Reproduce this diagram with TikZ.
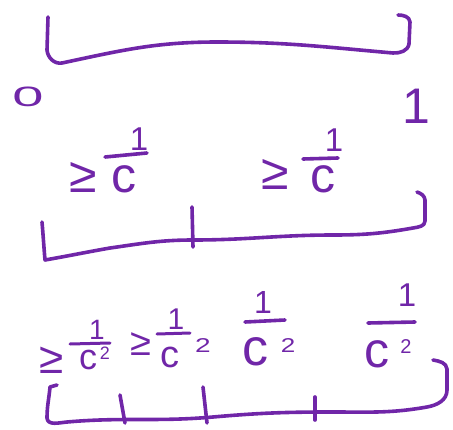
\documentclass[tikz,border=0pt]{standalone}
\usepackage{fontspec}
\setmainfont{Liberation Sans}
\definecolor{ink}{RGB}{112,38,168}
\tikzset{
  pen/.style={draw=ink, line width=3.6pt, line cap=round, line join=round},
  txt/.style={text=ink, inner sep=0pt, anchor=center},
}
\newcommand{\fs}[1]{\fontsize{#1}{#1}\selectfont}
\begin{document}
\begin{tikzpicture}[x=1pt,y=-1pt]
\useasboundingbox (0,0) rectangle (453,429);
% ---------- top interval ----------
\draw[pen] (48,17) -- (47,50) to[out=-85,in=190] (62,63) to[out=12,in=180] (217,42) to[out=0,in=175] (393,53) to[out=-2,in=-100] (409,44) -- (410,22) to[out=95,in=0] (398,15);
\node[txt] (zero) at (28,97) {\scalebox{2.0}[1]{\fs{28}0}};
\node[txt] (one) at (416,106) {\fs{50}1};
% ---------- middle interval ----------
\draw[pen] (42,222) to[out=-85,in=95] (45,260) to[out=10,in=190] (110,248) to[out=8,in=180] (193,240) to[out=0,in=180] (333,235) to[out=0,in=190] (413,228) to[out=10,in=-90] (425,221) -- (425,200) to[out=95,in=-20] (417,192);
\draw[pen] (192,207) -- (193,247);
% label 1
\node[txt] (ga) at (83,177) {\fs{50}≥};
\node[txt] (na) at (139,139) {\fs{33}1};
\coordinate (ba1) at (105,157); \coordinate (ba2) at (147,153);
\draw[pen] (ba1) -- (ba2);
\node[txt] (ca) at (124,179) {\fs{50}c};
% label 2
\node[txt] (gb) at (275,174) {\fs{50}≥};
\node[txt] (nb) at (334,140) {\fs{33}1};
\coordinate (bb1) at (303,159); \coordinate (bb2) at (338,158);
\draw[pen] (bb1) -- (bb2);
\node[txt] (cb) at (323,179) {\fs{50}c};
% ---------- bottom interval ----------
\draw[pen] (57,385) -- (50,387) to[out=-95,in=90] (47,418) to[out=-85,in=185] (67,422) to[out=5,in=185] (213,417) to[out=5,in=180] (333,412) to[out=0,in=190] (427,407) to[out=10,in=-90] (447,390) -- (447,369) to[out=95,in=-10] (433,360);
\draw[pen] (120,395) -- (125,423);
\draw[pen] (203,387) -- (207,423);
\draw[pen] (315,397) -- (315,420);
% label 1
\node[txt] (gc) at (52,360) {\fs{44}≥};
\node[txt] (nc) at (97,330) {\fs{28}1};
\coordinate (bc1) at (70,344); \coordinate (bc2) at (110,343);
\draw[pen, line width=3pt] (bc1) -- (bc2);
\node[txt] (cc) at (88,360) {\fs{36}c};
\node[txt] (sc) at (105,353) {\fs{18}2};
% label 2
\node[txt] (gd) at (141,344) {\fs{38}≥};
\node[txt] (nd) at (176,319) {\fs{30}1};
\coordinate (bd1) at (157,334); \coordinate (bd2) at (190,333);
\draw[pen, line width=3pt] (bd1) -- (bd2);
\node[txt] (cd) at (170,357) {\fs{38}c};
\node[txt] (sd) at (203,346) {\scalebox{1.4}[1]{\fs{20}2}};
% label 3
\node[txt] (ne) at (263,302) {\fs{32}1};
\coordinate (be1) at (245,322); \coordinate (be2) at (285,320);
\draw[pen] (be1) -- (be2);
\node[txt] (ce) at (255,352) {\fs{52}c};
\node[txt] (se) at (288,346) {\scalebox{1.3}[1]{\fs{20}2}};
% label 4
\node[txt] (nf) at (407,295) {\fs{33}1};
\coordinate (bf1) at (368,323); \coordinate (bf2) at (415,322);
\draw[pen] (bf1) -- (bf2);
\node[txt] (cf) at (377,354) {\fs{50}c};
\node[txt] (sf) at (406,347) {\fs{20}2};
\end{tikzpicture}
\end{document}
